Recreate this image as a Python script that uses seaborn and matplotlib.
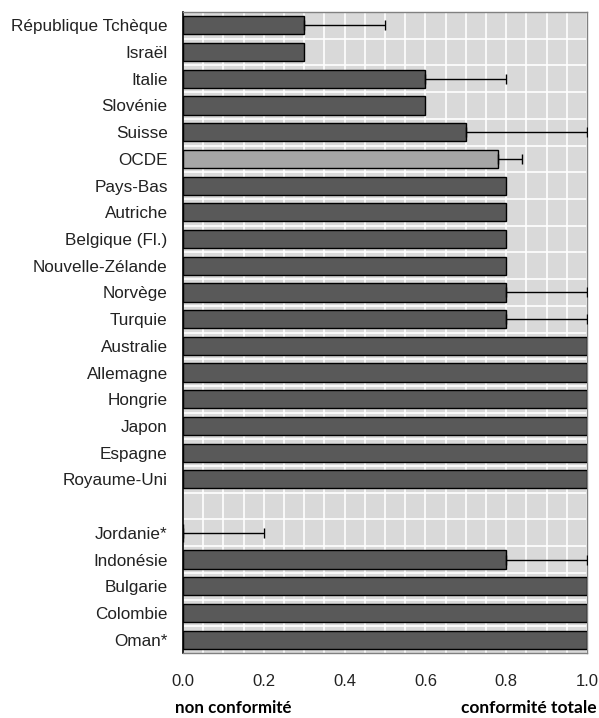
import numpy as np
import pandas as pd
import matplotlib
matplotlib.use("Agg")
import matplotlib.pyplot as plt
import seaborn as sns

countries = ["République Tchèque", "Israël", "Italie", "Slovénie", "Suisse", "OCDE",
             "Pays-Bas", "Autriche", "Belgique (Fl.)", "Nouvelle-Zélande", "Norvège",
             "Turquie", "Australie", "Allemagne", "Hongrie", "Japon", "Espagne",
             "Royaume-Uni", "Jordanie*", "Indonésie", "Bulgarie", "Colombie", "Oman*"]
values = [0.3, 0.3, 0.6, 0.6, 0.7, 0.78, 0.8, 0.8, 0.8, 0.8, 0.8, 0.8,
          1.0, 1.0, 1.0, 1.0, 1.0, 1.0, 0.0, 0.8, 1.0, 1.0, 1.0]
errors = [0.2, 0, 0.2, 0, 0.3, 0.06, 0, 0, 0, 0, 0.2, 0.2,
          0, 0, 0, 0, 0, 0, 0.2, 0.2, 0, 0, 0]

# blank row between OECD countries and partners
order = countries[:18] + [" "] + countries[18:]
xticks = [0.0, 0.2, 0.4, 0.6, 0.8, 1.0]

df = pd.DataFrame({"pays": countries, "val": values, "err": errors})
palette = {c: ("#a6a6a6" if c == "OCDE" else "#595959") for c in countries}

plt.rcParams["font.family"] = ["Liberation Sans", "DejaVu Sans"]
fig = plt.figure(figsize=(5.99, 7.18), dpi=100)
ax = fig.add_axes([183/599, 1-653/718, (587-183)/599, (653-12)/718])
ax.set_facecolor("#d9d9d9")

sns.barplot(data=df, x="val", y="pays", order=order, hue="pays", palette=palette,
            legend=False, edgecolor="black", linewidth=1.0, width=0.68,
            errorbar=None, saturation=1, ax=ax, zorder=3)

pos = [order.index(c) for c in countries]
has_err = df["err"] > 0
ax.errorbar(df["val"][has_err], np.array(pos)[has_err],
            xerr=[np.zeros(has_err.sum()), df["err"][has_err]],
            fmt="none", ecolor="black", elinewidth=1.0, capsize=3.5, capthick=1.0, zorder=4)

ax.set_xlim(0, 1.0)
ax.set_ylim(len(order)-0.5, -0.5)
ax.set_xticks(xticks)
ax.set_xticklabels([f"{t:.1f}" for t in xticks])
ax.set_xticks(np.arange(0, 1.0001, 0.05), minor=True)
ax.set_yticks(np.arange(len(order)-1)+0.5, minor=True)
ax.grid(True, which="both", axis="x", color="white", linewidth=1.2, zorder=0)
ax.grid(True, which="minor", axis="y", color="white", linewidth=1.2, zorder=0)
ax.set_axisbelow(True)
ax.tick_params(axis="x", which="both", length=0, pad=15, labelsize=12, colors="#222222")
ax.tick_params(axis="y", which="both", length=0, pad=11, labelsize=12.3, colors="#222222")
ax.set_xlabel("")
ax.set_ylabel("")

ax.spines["left"].set_color("black")
ax.spines["left"].set_linewidth(1.2)
for s in ["top", "right", "bottom"]:
    ax.spines[s].set_color("#808080")
    ax.spines[s].set_linewidth(1.0)

fig.text(175/599, 1-708/718, "non conformité", ha="left", va="center",
         fontsize=12.2, fontweight="bold", family=["Lato", "Liberation Sans"])
fig.text(597/599, 1-708/718, "conformité totale", ha="right", va="center",
         fontsize=12.5, fontweight="bold", family=["Lato", "Liberation Sans"])

fig.savefig("out.png", dpi=100)
